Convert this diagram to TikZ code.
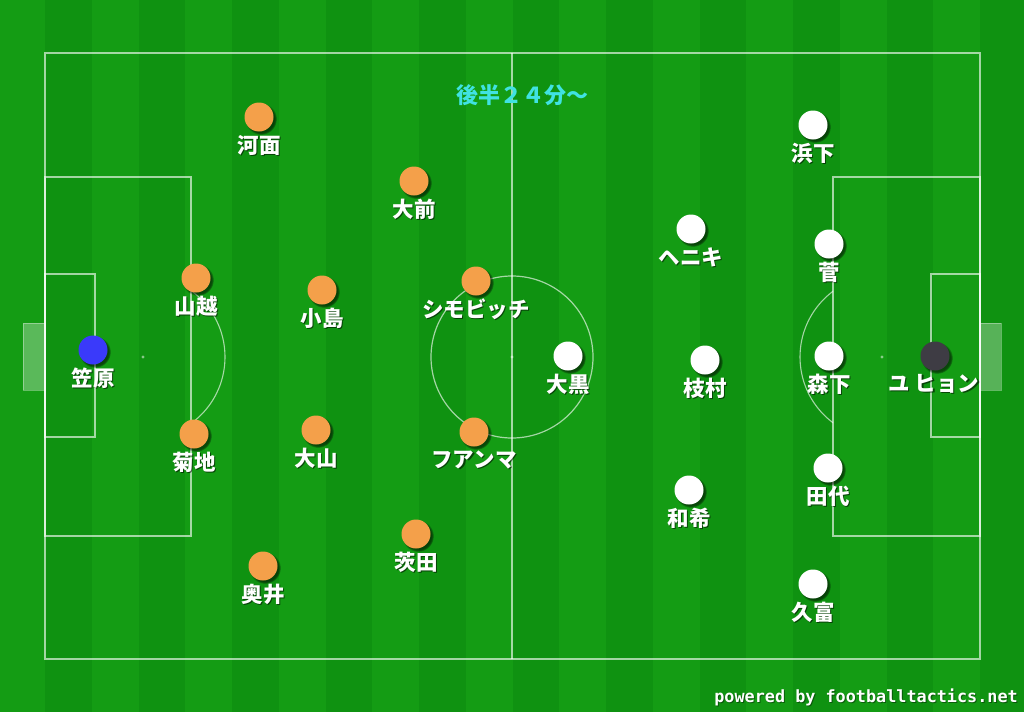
\documentclass[tikz,border=0pt]{standalone}
\usepackage{fontspec}
\usetikzlibrary{shadows,calc}
\newfontfamily\jpfont{Noto Sans CJK JP}
\newfontfamily\footfont{DejaVu Sans Mono}
\definecolor{pitchA}{RGB}{20,156,20}
\definecolor{pitchB}{RGB}{15,146,17}
\definecolor{orangeP}{RGB}{244,160,74}
\definecolor{blueP}{RGB}{58,58,250}
\definecolor{blackP}{RGB}{62,60,68}
\definecolor{titleC}{RGB}{64,226,226}
\tikzset{
  pl/.style={draw=white, draw opacity=0.62, line width=1.8pt},
  ball/.style={circle, minimum size=29pt, inner sep=0pt,
    circular drop shadow={shadow xshift=1.8pt, shadow yshift=-1.8pt, opacity=0.55, fill=black}},
  orangeball/.style={ball, fill=orangeP},
  whiteball/.style={ball, fill=white},
  blueball/.style={ball, fill=blueP},
  blackball/.style={ball, fill=blackP},
  lblfont/.style={font=\jpfont\bfseries\fontsize{21.5}{24}\selectfont, inner sep=0pt},
  lbl/.style={lblfont, text=white},
  lblsh/.style={lblfont, text=black, text opacity=0.55},
}
\newcommand\myplayer[5]{%
  \node[#2] (#1) at (#3,#4) {};
  \node[lblsh] at ($(#3,#4+28)+(1.2pt,-1.2pt)$) {#5};
  \node[lbl] (#1-l) at (#3,#4+28) {#5};
}
\begin{document}
\begin{tikzpicture}[x=1pt,y=-1pt]
\useasboundingbox (0,0) rectangle (1024,712);
% grass
\fill[pitchA] (0,0) rectangle (1024,712);
\foreach \i in {0,...,10} {
  \fill[pitchB] ({45+(2*\i)*46.75},0) rectangle ({45+(2*\i+1)*46.75},712);
}
% goals
\fill[white, fill opacity=0.3] (23,323) rectangle (45,390);
\draw[white, draw opacity=0.35, line width=1pt] (23,323) rectangle (45,390);
\fill[white, fill opacity=0.3] (980,323) rectangle (1001,390);
\draw[white, draw opacity=0.35, line width=1pt] (980,323) rectangle (1001,390);
% pitch lines
\draw[pl] (45,53) rectangle (980,659);
\draw[pl] (512,53) -- (512,659);
\draw[pl, line width=1.2pt] (512,357) circle (81pt);
\draw[pl] (45,177) rectangle (191,536);
\draw[pl] (45,274) rectangle (95,437);
\draw[pl] (833,177) rectangle (980,536);
\draw[pl] (931,274) rectangle (980,437);
\begin{scope}
  \clip (191,0) rectangle (400,712);
  \draw[pl, line width=1.1pt] (143,357) circle (82pt);
\end{scope}
\begin{scope}
  \clip (600,0) rectangle (833,712);
  \draw[pl, line width=1.1pt] (882,357) circle (82pt);
\end{scope}
\fill[white, opacity=0.5] (143,357) circle (1.6pt);
\fill[white, opacity=0.5] (882,357) circle (1.6pt);
\fill[white, opacity=0.5] (512,357) circle (1.6pt);
% title
\node[font=\jpfont\bfseries\fontsize{22}{26}\selectfont, text=titleC, inner sep=0pt] (title) at (522,95) {後半２４分～};
% orange team
\myplayer{kawamo}{orangeball}{259}{117}{河面}
\myplayer{omae}{orangeball}{414}{181}{大前}
\myplayer{yamakoshi}{orangeball}{196}{278}{山越}
\myplayer{kojima}{orangeball}{322}{290}{小島}
\myplayer{simo}{orangeball}{476}{281}{シモビッチ}
\myplayer{kikuchi}{orangeball}{194}{434}{菊地}
\myplayer{oyama}{orangeball}{316}{430}{大山}
\myplayer{juanma}{orangeball}{474}{432}{フアンマ}
\myplayer{ibarada}{orangeball}{416}{534}{茨田}
\myplayer{okui}{orangeball}{263}{566}{奥井}
\myplayer{kasahara}{blueball}{93}{350}{笠原}
% white team
\myplayer{hamashita}{whiteball}{813}{125}{浜下}
\myplayer{heniki}{whiteball}{691}{229}{ヘニキ}
\myplayer{suga}{whiteball}{829}{244}{菅}
\myplayer{oguro}{whiteball}{568}{356}{大黒}
\myplayer{edamura}{whiteball}{705}{360}{枝村}
\myplayer{morishita}{whiteball}{829}{356}{森下}
\myplayer{kazuki}{whiteball}{689}{490}{和希}
\myplayer{tashiro}{whiteball}{828}{468}{田代}
\myplayer{hidomi}{whiteball}{813}{584}{久富}
\node[blackball] (yu) at (935,356) {};
\node[lblsh] at ($(934,384)+(1.2pt,-1.2pt)$) {ユ ヒョン};
\node[lbl] (yu-l) at (934,384) {ユ ヒョン};
% footer
\node[font=\footfont\bfseries\fontsize{16.8}{18}\selectfont, text=black, text opacity=0.4, anchor=base east, inner sep=0pt] at (1019,703) {powered by footballtactics.net};
\node[font=\footfont\bfseries\fontsize{16.8}{18}\selectfont, text=white, anchor=base east, inner sep=0pt] (footer) at (1018,702) {powered by footballtactics.net};
\end{tikzpicture}
\end{document}
